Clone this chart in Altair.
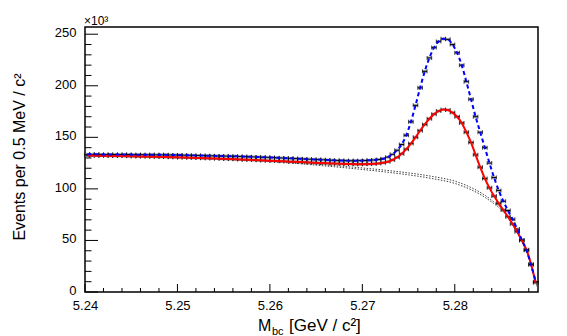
import altair as alt
import pandas as pd

# ---------------- data ----------------
BIN_START = 5.24      # GeV/c^2, lower edge of first bin
BIN_WIDTH = 0.0005    # 0.5 MeV bins

# data set 1 (black points, fitted by the blue dashed curve), units of 10^3 events
black_counts = [
    133.5, 133.5, 133.5, 133.4, 133.4, 133.4, 133.3, 133.3, 133.3, 133.3,
    133.2, 133.2, 133.2, 133.1, 133.1, 133.0, 133.0, 133.0, 132.9, 132.9,
    132.8, 132.7, 132.6, 132.5, 132.4, 132.3, 132.2, 132.1, 132.0, 131.9,
    131.8, 131.7, 131.6, 131.5, 131.3, 131.2, 131.0, 130.9, 130.7, 130.6,
    130.4, 130.2, 130.0, 129.8, 129.6, 129.4, 129.2, 129.0, 128.8, 128.6,
    128.4, 128.2, 128.0, 127.8, 127.6, 127.5, 127.4, 127.3, 127.3, 127.4,
    127.5, 127.7, 128.0, 128.5, 129.2, 130.8, 133.5, 137.5, 143.0, 152.0,
    165.0, 181.0, 198.0, 214.0, 227.0, 237.0, 243.0, 245.5, 245.0, 240.0,
    232.0, 220.0, 204.0, 187.0, 170.0, 155.0, 140.0, 125.0, 111.0, 98.5,
    88.0, 79.0, 70.5, 61.0, 50.5, 40.5, 26.5, 10.0,
]

# data set 2 (points fitted by the red solid curve)
red_counts = [
    132.3, 132.3, 132.2, 132.2, 132.1, 132.0, 132.0, 131.9, 131.8, 131.7,
    131.6, 131.5, 131.4, 131.3, 131.2, 131.1, 131.0, 130.9, 130.8, 130.7,
    130.5, 130.4, 130.3, 130.1, 130.0, 129.8, 129.7, 129.5, 129.4, 129.2,
    129.0, 128.9, 128.7, 128.5, 128.3, 128.2, 128.0, 127.8, 127.6, 127.4,
    127.2, 127.0, 126.8, 126.6, 126.4, 126.2, 126.0, 125.8, 125.6, 125.4,
    125.2, 125.0, 124.8, 124.6, 124.5, 124.3, 124.2, 124.1, 124.0, 124.0,
    124.0, 124.1, 124.3, 124.7, 125.3, 126.3, 128.0, 130.5, 134.0, 138.5,
    144.0, 150.0, 156.5, 162.5, 168.0, 172.5, 175.5, 177.0, 176.5, 174.0,
    170.0, 164.0, 155.0, 145.0, 133.0, 121.0, 110.0, 101.0, 93.0, 86.0,
    79.5, 73.0, 66.0, 58.5, 50.0, 41.0, 27.0, 9.0,
]

# background components (dotted curves)
bg_m = [5.240, 5.245, 5.250, 5.255, 5.260, 5.2625, 5.265, 5.2675, 5.270, 5.2725,
        5.275, 5.2775, 5.280, 5.281, 5.282, 5.283, 5.284, 5.285, 5.2855, 5.286,
        5.2865, 5.287, 5.2875, 5.288, 5.2885, 5.289]
bg_upper = [132.2, 131.5, 130.5, 129.1, 127.2, 125.8, 124.0, 122.2, 120.3, 118.1,
            115.5, 112.2, 107.5, 104.3, 100.3, 95.3, 89.0, 81.5, 76.5, 69.5,
            62.0, 54.0, 45.0, 33.5, 17.5, 3.0]
bg_lower = [132.0, 131.2, 130.1, 128.6, 126.5, 124.9, 123.0, 121.0, 118.8, 116.4,
            113.6, 110.1, 105.3, 102.1, 98.2, 93.3, 87.2, 80.0, 75.3, 68.5,
            61.3, 53.5, 44.6, 33.2, 17.0, 3.0]

# axis ticks
y_major = [0, 50, 100, 150, 200, 250]
y_minor = [10, 20, 30, 40, 60, 70, 80, 90, 110, 120, 130, 140, 160, 170, 180, 190,
           210, 220, 230, 240]
x_major = [5.24, 5.25, 5.26, 5.27, 5.28]
x_minor = [5.242, 5.244, 5.246, 5.248, 5.252, 5.254, 5.256, 5.258, 5.262, 5.264,
           5.266, 5.268, 5.272, 5.274, 5.276, 5.278, 5.282, 5.284, 5.286, 5.288]

X_DOMAIN = [5.24, 5.289]
Y_DOMAIN = [0, 257]

# ---------------- tables ----------------
n = len(black_counts)
lo = [BIN_START + i * BIN_WIDTH for i in range(n)]
hi = [v + BIN_WIDTH for v in lo]
mid = [v + BIN_WIDTH / 2 for v in lo]
pts = pd.DataFrame({"lo": lo, "hi": hi, "m": mid, "black": black_counts, "red": red_counts})
bg = pd.DataFrame({"m": bg_m, "up": bg_upper, "low": bg_lower})

FONT = "Liberation Sans"
W, H = 453, 265

xs = alt.Scale(domain=X_DOMAIN, nice=False, zero=False)
ys = alt.Scale(domain=Y_DOMAIN, nice=False, zero=True)

x_axis = alt.Axis(values=x_major, format=".2f", ticks=False, domain=False, grid=False,
                  labelFont=FONT, labelFontSize=13, labelColor="black", labelPadding=7,
                  title=None, labelFlush=False)
y_axis = alt.Axis(values=y_major, format="d", ticks=False, domain=False, grid=False,
                  labelFont=FONT, labelFontSize=13, labelColor="black", labelPadding=9,
                  labelOffset=-1.5, title=None, labelFlush=False)


def X(field):
    return alt.X(field, scale=xs, axis=x_axis)


def Y(field):
    return alt.Y(field, scale=ys, axis=y_axis)


base = alt.Chart(pts)

# markers: horizontal bin-width bars with end caps
halo_b = base.mark_rule(color="#b0b0b0", strokeWidth=3).encode(x=X("lo:Q"), x2="hi:Q", y=Y("black:Q"))
halo_r = base.mark_rule(color="#b0b0b0", strokeWidth=3).encode(x=X("lo:Q"), x2="hi:Q", y=Y("red:Q"))
bar_b = base.mark_rule(color="black", strokeWidth=1).encode(x=X("lo:Q"), x2="hi:Q", y=Y("black:Q"))
bar_r = base.mark_rule(color="black", strokeWidth=1).encode(x=X("lo:Q"), x2="hi:Q", y=Y("red:Q"))


def caps(field, edge):
    return base.mark_tick(orient="vertical", size=4, thickness=1, color="black").encode(
        x=X(f"{edge}:Q"), y=Y(f"{field}:Q"))


# background dotted curves
bg_base = alt.Chart(bg)
dot_up = bg_base.mark_line(color="#444444", strokeWidth=1, strokeDash=[1.5, 1.5],
                           interpolate="monotone", clip=True).encode(x=X("m:Q"), y=Y("up:Q"))
dot_low = bg_base.mark_line(color="#444444", strokeWidth=1, strokeDash=[1.5, 1.5],
                            interpolate="monotone", clip=True).encode(x=X("m:Q"), y=Y("low:Q"))

# fit curves
red_line = base.mark_line(color="#ff0000", strokeWidth=2, interpolate="monotone",
                          clip=True).encode(x=X("m:Q"), y=Y("red:Q"))
blue_line = base.mark_line(color="#0000ff", strokeWidth=2, strokeDash=[4, 3],
                           interpolate="monotone", clip=True).encode(x=X("m:Q"), y=Y("black:Q"))

# inward ticks (ROOT style)
ymaj = alt.Chart(pd.DataFrame({"v": y_major})).mark_rule(color="black", strokeWidth=1).encode(
    y=Y("v:Q"), x=alt.value(0), x2=alt.value(13))
ymin = alt.Chart(pd.DataFrame({"v": y_minor})).mark_rule(color="black", strokeWidth=1).encode(
    y=Y("v:Q"), x=alt.value(0), x2=alt.value(6.5))
xmaj = alt.Chart(pd.DataFrame({"v": x_major})).mark_rule(color="black", strokeWidth=1).encode(
    x=X("v:Q"), y=alt.value(H), y2=alt.value(H - 8))
xmin = alt.Chart(pd.DataFrame({"v": x_minor})).mark_rule(color="black", strokeWidth=1).encode(
    x=X("v:Q"), y=alt.value(H), y2=alt.value(H - 4))


# titles
def txt(s, x, y, size, **kw):
    return alt.Chart(pd.DataFrame({"t": [s]})).mark_text(
        font=FONT, fontSize=size, color="black", **kw).encode(
        text="t:N", x=alt.value(x), y=alt.value(y))


t_M = txt("M", 173, 304, 16, align="left", baseline="alphabetic")
t_bc = txt("bc", 187, 308, 11, align="left", baseline="alphabetic")
t_unit = txt("[GeV / c²]", 204, 304, 17, align="left", baseline="alphabetic")
t_y = txt("Events per 0.5 MeV / c²", -65, 130, 16, align="center", baseline="middle", angle=270)
t_exp = txt("×10³", -1, -6, 12, align="left", baseline="middle")

chart = alt.layer(
    halo_b, halo_r, bar_b, bar_r,
    caps("black", "lo"), caps("black", "hi"), caps("red", "lo"), caps("red", "hi"),
    dot_up, dot_low, red_line, blue_line,
    ymaj, ymin, xmaj, xmin,
    t_M, t_bc, t_unit, t_y, t_exp,
).properties(
    width=W, height=H,
    autosize=alt.AutoSizeParams(type="none"),
    padding={"left": 85, "top": 27, "right": 29, "bottom": 44},
    background="white",
).configure_view(stroke="black", strokeWidth=1.5)

chart.save("out.html", embed_options={"renderer": "svg", "actions": False})
